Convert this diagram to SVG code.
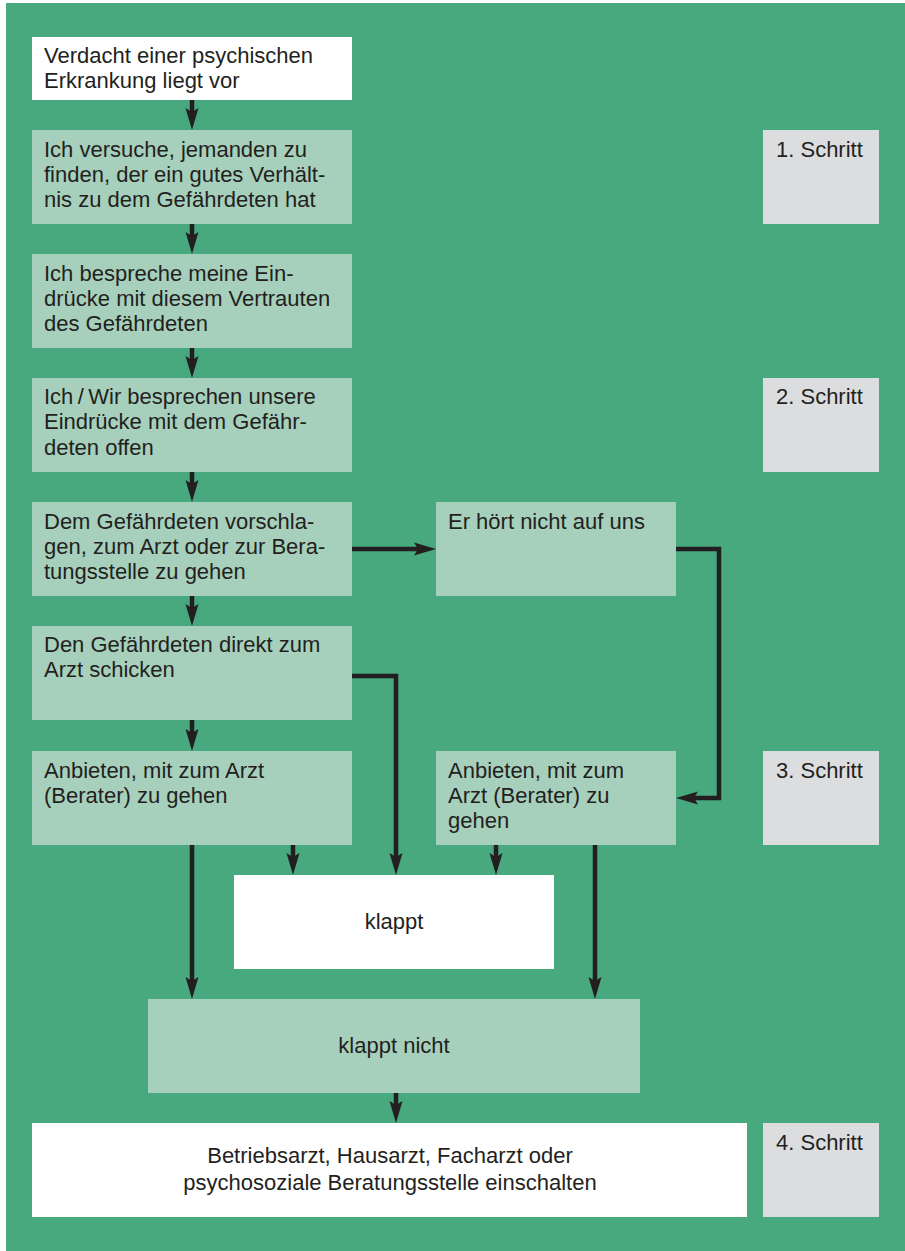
<svg xmlns="http://www.w3.org/2000/svg" width="905" height="1251" viewBox="0 0 905 1251">
<style>
.t{font-family:"Liberation Sans",Arial,Helvetica,sans-serif;font-size:22px;fill:#231f20}
.c{text-anchor:middle}
.w{fill:#ffffff}
.l{fill:#a6d0bc}
.g{fill:#dcdddf}
.con{fill:none;stroke:#231f20;stroke-width:4.5;stroke-linejoin:miter}
</style>
<defs>
<marker id="ah" viewBox="0 -7 22 14" refX="7" refY="0" markerWidth="22" markerHeight="14" markerUnits="userSpaceOnUse" orient="auto">
<path d="M0,-6.5 L22,0 L0,6.5 L4,0 Z" fill="#231f20"/>
</marker>
</defs>
<rect x="0" y="0" width="905" height="1251" fill="#ffffff"/>
<rect x="6" y="3" width="899" height="1248" fill="#48a97f"/>

<g id="connectors">
<path class="con" d="M192,100 V115" marker-end="url(#ah)"/>
<path class="con" d="M192,224 V239" marker-end="url(#ah)"/>
<path class="con" d="M192,348 V363" marker-end="url(#ah)"/>
<path class="con" d="M192,472 V487" marker-end="url(#ah)"/>
<path class="con" d="M192,596 V611" marker-end="url(#ah)"/>
<path class="con" d="M192,720 V736" marker-end="url(#ah)"/>
<path class="con" d="M352,549 H421" marker-end="url(#ah)"/>
<path class="con" d="M676,549 H719 V798 H691" marker-end="url(#ah)"/>
<path class="con" d="M352,676 H396 V860" marker-end="url(#ah)"/>
<path class="con" d="M192,845 V984" marker-end="url(#ah)"/>
<path class="con" d="M293,845 V860" marker-end="url(#ah)"/>
<path class="con" d="M496,845 V860" marker-end="url(#ah)"/>
<path class="con" d="M595,845 V984" marker-end="url(#ah)"/>
<path class="con" d="M396,1093 V1108" marker-end="url(#ah)"/>
</g>

<g id="n1">
<rect class="w" x="32" y="37" width="320" height="63"/>
<text class="t" x="44" y="63">Verdacht einer psychischen</text>
<text class="t" x="44" y="88">Erkrankung liegt vor</text>
</g>
<g id="n2">
<rect class="l" x="32" y="130" width="320" height="94"/>
<text class="t" x="44" y="157">Ich versuche, jemanden zu</text>
<text class="t" x="44" y="182">finden, der ein gutes Verhält-</text>
<text class="t" x="44" y="207">nis zu dem Gefährdeten hat</text>
</g>
<g id="n3">
<rect class="l" x="32" y="254" width="320" height="94"/>
<text class="t" x="44" y="281">Ich bespreche meine Ein-</text>
<text class="t" x="44" y="306">drücke mit diesem Vertrauten</text>
<text class="t" x="44" y="331">des Gefährdeten</text>
</g>
<g id="n4">
<rect class="l" x="32" y="378" width="320" height="94"/>
<text class="t" x="44" y="404">Ich&#8201;/&#8201;Wir besprechen unsere</text>
<text class="t" x="44" y="429">Eindrücke mit dem Gefähr-</text>
<text class="t" x="44" y="455">deten offen</text>
</g>
<g id="n5">
<rect class="l" x="32" y="502" width="320" height="94"/>
<text class="t" x="44" y="529">Dem Gefährdeten vorschla-</text>
<text class="t" x="44" y="554">gen, zum Arzt oder zur Bera-</text>
<text class="t" x="44" y="579">tungsstelle zu gehen</text>
</g>
<g id="n6">
<rect class="l" x="32" y="626" width="320" height="94"/>
<text class="t" x="44" y="652">Den Gefährdeten direkt zum</text>
<text class="t" x="44" y="677">Arzt schicken</text>
</g>
<g id="n7">
<rect class="l" x="32" y="751" width="320" height="94"/>
<text class="t" x="44" y="778">Anbieten, mit zum Arzt</text>
<text class="t" x="44" y="803">(Berater) zu gehen</text>
</g>
<g id="n8">
<rect class="l" x="436" y="502" width="240" height="94"/>
<text class="t" x="448" y="529">Er hört nicht auf uns</text>
</g>
<g id="n9">
<rect class="l" x="436" y="751" width="240" height="94"/>
<text class="t" x="448" y="778">Anbieten, mit zum</text>
<text class="t" x="448" y="803">Arzt (Berater) zu</text>
<text class="t" x="448" y="828">gehen</text>
</g>
<g id="n10">
<rect class="w" x="234" y="875" width="320" height="94"/>
<text class="t c" x="394" y="929">klappt</text>
</g>
<g id="n11">
<rect class="l" x="148" y="999" width="492" height="94"/>
<text class="t c" x="394" y="1053">klappt nicht</text>
</g>
<g id="n12">
<rect class="w" x="32" y="1123" width="715" height="94"/>
<text class="t c" x="390" y="1163">Betriebsarzt, Hausarzt, Facharzt oder</text>
<text class="t c" x="390" y="1190">psychosoziale Beratungsstelle einschalten</text>
</g>
<g id="s1">
<rect class="g" x="763" y="130" width="116" height="94"/>
<text class="t" x="776" y="157">1. Schritt</text>
</g>
<g id="s2">
<rect class="g" x="763" y="378" width="116" height="94"/>
<text class="t" x="776" y="404">2. Schritt</text>
</g>
<g id="s3">
<rect class="g" x="763" y="751" width="116" height="94"/>
<text class="t" x="776" y="778">3. Schritt</text>
</g>
<g id="s4">
<rect class="g" x="763" y="1123" width="116" height="94"/>
<text class="t" x="776" y="1150">4. Schritt</text>
</g>
</svg>
